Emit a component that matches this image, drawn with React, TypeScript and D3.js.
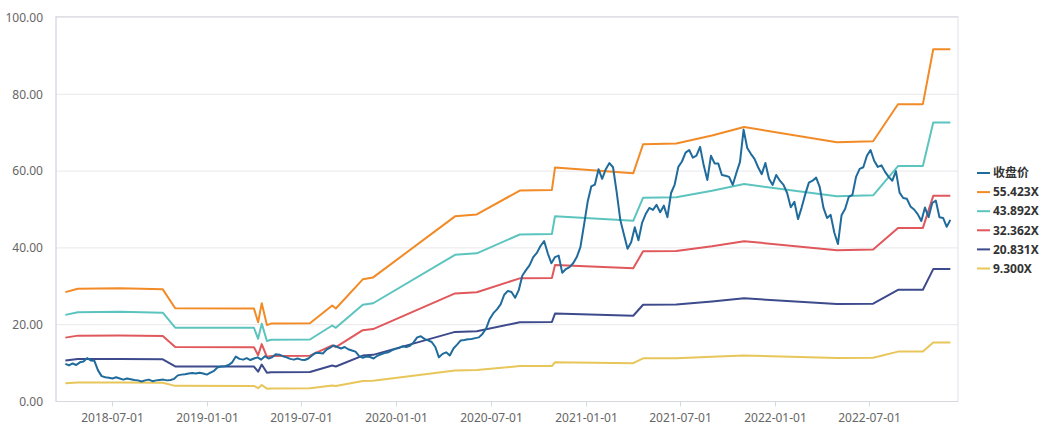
import React from "react";
import * as d3 from "d3";

// ---- data ----
const seriesNames = ["收盘价", "55.423X", "43.892X", "32.362X", "20.831X", "9.300X"];
const multiples = [55.423, 43.892, 32.362, 20.831, 9.3];
const colors = ["#1f6b9c", "#f28a26", "#5cc4bf", "#e0585b", "#3d4a8b", "#e8c65a"];

const yTicks = [0, 20, 40, 60, 80, 100];
const xTickLabels = [
  "2018-07-01", "2019-01-01", "2019-07-01", "2020-01-01", "2020-07-01",
  "2021-01-01", "2021-07-01", "2022-01-01", "2022-07-01",
];

// earnings per share used for the PE bands (band = eps * multiple)
const epsDates = [
  "2018-04-02", "2018-04-26", "2018-07-16", "2018-10-07", "2018-10-31", "2019-04-01",
  "2019-04-09", "2019-04-16", "2019-04-26", "2019-05-04", "2019-07-18", "2019-08-30",
  "2019-09-06", "2019-10-28", "2019-11-17", "2020-04-23", "2020-06-04", "2020-08-26",
  "2020-10-27", "2020-11-02", "2021-04-02", "2021-04-21", "2021-06-24", "2021-09-01",
  "2021-11-02", "2022-04-30", "2022-07-09", "2022-08-26", "2022-10-13", "2022-11-02",
  "2022-12-05",
];
const epsValues = [
  0.514, 0.530, 0.532, 0.527, 0.438, 0.437,
  0.372, 0.462, 0.359, 0.366, 0.368, 0.451,
  0.437, 0.574, 0.583, 0.870, 0.879, 0.991,
  0.994, 1.099, 1.072, 1.209, 1.212, 1.250,
  1.290, 1.218, 1.223, 1.397, 1.397, 1.655,
  1.655,
];

// weekly closing price, starting 2018-04-02
const closeStart = "2018-04-02";
const closeValues = [
  9.8, 9.4, 9.9, 9.5, 10.2, 10.4, 11.3, 10.7, 10.6, 8.1,
  6.6, 6.3, 6.2, 6.0, 6.3, 6.0, 5.7, 6.0, 5.8, 5.6,
  5.5, 5.2, 5.5, 5.7, 5.3, 5.5, 5.6, 5.7, 5.5, 5.6,
  5.9, 6.8, 7.0, 7.1, 7.3, 7.4, 7.3, 7.5, 7.3, 7.0,
  7.5, 8.0, 8.9, 9.1, 9.2, 9.5, 10.2, 11.7, 11.1, 10.9,
  11.3, 10.8, 11.2, 11.5, 10.9, 11.8, 11.2, 11.5, 12.3, 12.2,
  11.8, 11.5, 11.1, 10.9, 11.2, 10.9, 10.8, 11.2, 12.0, 12.7,
  12.6, 12.5, 13.5, 14.0, 14.6, 14.2, 13.8, 14.2, 13.6, 13.3,
  13.0, 11.8, 11.4, 11.7, 11.6, 11.2, 11.9, 12.3, 12.6, 12.8,
  13.3, 13.7, 13.9, 14.4, 14.2, 14.5, 15.4, 16.7, 17.0, 16.3,
  15.9, 15.5, 14.2, 11.5, 12.4, 12.8, 12.0, 13.8, 14.8, 15.9,
  16.0, 16.2, 16.3, 16.5, 16.7, 17.6, 19.0, 21.5, 23.0, 24.0,
  25.3, 27.8, 28.8, 28.5, 27.0, 29.0, 32.8, 34.2, 35.5, 37.6,
  38.7, 40.5, 41.8, 38.6, 36.0, 37.6, 38.0, 33.5, 34.5, 35.0,
  36.0, 37.6, 40.2, 46.0, 52.0, 56.0, 56.5, 60.5, 58.0, 60.5,
  62.1, 61.0, 54.5, 47.3, 43.5, 39.8, 41.5, 45.4, 42.0, 46.5,
  48.8, 50.4, 49.9, 51.2, 49.3, 51.0, 48.0, 54.3, 56.5, 61.1,
  62.5, 64.8, 65.5, 63.5, 64.0, 66.3, 61.5, 57.7, 64.0, 62.0,
  62.0, 59.0, 58.8, 58.5, 56.4, 59.5, 62.4, 70.8, 66.0, 64.5,
  63.2, 61.0, 59.2, 62.1, 58.0, 56.4, 59.0, 57.5, 56.4, 54.3,
  50.6, 52.0, 47.5, 50.5, 54.0, 57.0, 57.5, 58.3, 55.8, 50.5,
  47.8, 48.6, 44.0, 41.0, 48.5, 50.2, 53.3, 53.8, 58.5, 60.6,
  61.0, 64.0, 65.5, 62.7, 61.1, 61.5, 59.8, 58.5, 57.5, 60.0,
  54.4, 53.0, 52.8, 50.8, 50.0, 48.8, 47.0, 50.5, 48.0, 51.7,
  52.3, 48.0, 47.8, 45.5, 47.3,
];

// ---- layout ----
const W = 1050;
const H = 434;
const plotLeft = 56;
const plotRight = 958;
const plotTop = 17.5;
const plotBottom = 401.5;

const parse = d3.utcParse("%Y-%m-%d");
const FONT = '"Noto Sans", "Noto Sans CJK SC", sans-serif';

export default function App() {
  const x = d3
    .scaleUtc()
    .domain([parse("2018-07-01")!, parse("2022-07-01")!])
    .range([112, 869]);
  const y = d3.scaleLinear().domain([0, 100]).range([plotBottom, plotTop]);

  const start = parse(closeStart)!;
  const closePts: [Date, number][] = closeValues.map((v, i) => [d3.utcDay.offset(start, i * 7), v]);
  const epsPts: [Date, number][] = epsValues.map((v, i) => [parse(epsDates[i])!, v]);

  const line = d3
    .line<[Date, number]>()
    .x((d) => x(d[0]))
    .y((d) => y(d[1]));

  const bandPaths = multiples.map((m) => line(epsPts.map((p) => [p[0], p[1] * m] as [Date, number])) || "");
  const closePath = line(closePts) || "";

  const legendX = 977;
  const legendY0 = 173;
  const legendStep = 19.1;

  return (
    <div style={{ position: "absolute", left: 0, top: 0 }}>
      <svg width={W} height={H} style={{ display: "block", background: "#fff" }}>
        {/* gridlines */}
        {yTicks.map((t) => (
          <line key={t} x1={plotLeft} x2={plotRight} y1={y(t)} y2={y(t)} stroke="#e8e8ec" strokeWidth={1} />
        ))}
        {/* frame */}
        <rect
          x={plotLeft}
          y={plotTop - 1}
          width={plotRight - plotLeft}
          height={plotBottom - plotTop + 1}
          fill="none"
          stroke="#dfe1e7"
          strokeWidth={1}
        />
        <line x1={plotLeft} x2={plotRight} y1={plotBottom} y2={plotBottom} stroke="#d5d8e0" />
        <line x1={plotLeft} x2={plotLeft} y1={plotTop - 1} y2={plotBottom} stroke="#d5d8e0" />
        {/* y labels */}
        {yTicks.map((t) => (
          <text
            key={t}
            x={43}
            y={y(t)}
            dy="0.35em"
            textAnchor="end"
            fontSize={12}
            fontFamily={FONT}
            fill="#666"
          >
            {t.toFixed(2)}
          </text>
        ))}
        {/* x ticks */}
        {xTickLabels.map((s) => {
          const xx = Math.round(x(parse(s)!)) + 0.5;
          return (
            <g key={s}>
              <line x1={xx} x2={xx} y1={plotBottom} y2={plotBottom + 5} stroke="#d5d8e0" />
              <text x={xx} y={422} textAnchor="middle" fontSize={12} fontFamily={FONT} fill="#666">
                {s}
              </text>
            </g>
          );
        })}
        {/* bands */}
        {bandPaths.map((p, i) => (
          <path key={i} d={p} fill="none" stroke={colors[i + 1]} strokeWidth={2} strokeLinejoin="round" />
        ))}
        {/* close */}
        <path d={closePath} fill="none" stroke={colors[0]} strokeWidth={2} strokeLinejoin="round" />
        {/* legend */}
        {seriesNames.map((n, i) => {
          const yy = legendY0 + i * legendStep;
          return (
            <g key={n}>
              <line x1={legendX} x2={legendX + 13} y1={yy} y2={yy} stroke={colors[i]} strokeWidth={2} />
              <text
                x={legendX + 16}
                y={yy}
                dy="0.35em"
                fontSize={12}
                fontWeight="bold"
                fontFamily={FONT}
                fill="#333"
              >
                {n}
              </text>
            </g>
          );
        })}
      </svg>
    </div>
  );
}
